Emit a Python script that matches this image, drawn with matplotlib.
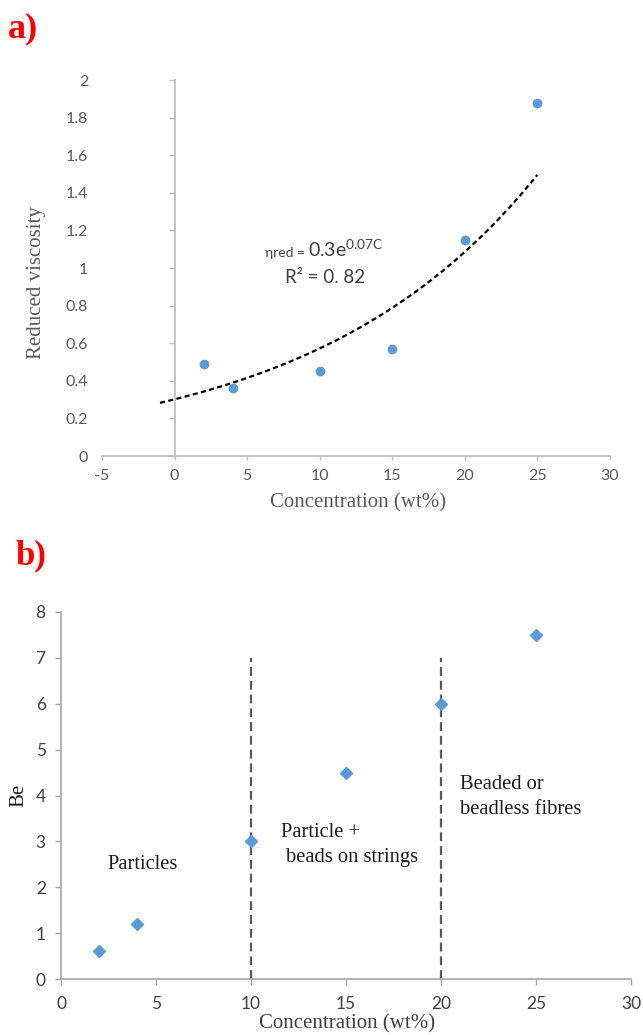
#! /usr/bin/env python

import numpy as np
import matplotlib
matplotlib.use("Agg")
from matplotlib import pyplot as plt

# panel a) reduced viscosity vs concentration
conc_a = [2, 4, 10, 15, 20, 25]
visc_a = [0.49, 0.36, 0.45, 0.57, 1.15, 1.88]
xticks_a = [-5, 0, 5, 10, 15, 20, 25, 30]
yticks_a = [0, 0.2, 0.4, 0.6, 0.8, 1, 1.2, 1.4, 1.6, 1.8, 2]
yticklabels_a = ["0", "0.2", "0.4", "0.6", "0.8", "1", "1.2", "1.4", "1.6", "1.8", "2"]
trend_start = -1  # Excel trendline, backward forecast of 1

# panel b) Berry number vs concentration
conc_b = [2, 4, 10, 15, 20, 25]
be_b = [0.6, 1.2, 3, 4.5, 6, 7.5]
regime_bounds = [10, 20]
xticks_b = [0, 5, 10, 15, 20, 25, 30]
yticks_b = [0, 1, 2, 3, 4, 5, 6, 7, 8]

blue = "#5B9BD5"
serif = ["Liberation Serif", "DejaVu Serif"]
sans = ["Lato", "DejaVu Sans"]

plt.rcParams["mathtext.fontset"] = "custom"
plt.rcParams["mathtext.rm"] = "Lato"
plt.rcParams["mathtext.it"] = "Lato"

fig = plt.figure(figsize=(6.43, 10.35), dpi=100)

# ---------------- a) ----------------
ax = fig.add_axes([0.1586, 0.5594, 0.790, 0.3633])
ax.set_xlim(-5, 30)
ax.set_ylim(0, 2)
for s in ["top", "right"]:
    ax.spines[s].set_visible(False)
ax.spines["left"].set_position(("data", 0))
ax.spines["left"].set_color("#BFBFBF")
ax.spines["bottom"].set_color("#BFBFBF")
ax.spines["left"].set_linewidth(1.3)
ax.spines["bottom"].set_linewidth(1.3)
ax.set_xticks(xticks_a)
ax.set_xticklabels([str(t) for t in xticks_a])
ax.set_yticks(yticks_a)
ax.tick_params(axis="x", direction="out", length=3, width=1, color="#BFBFBF",
               labelsize=11.5, labelcolor="#595959", pad=6)
ax.tick_params(axis="y", direction="out", length=4, width=1, color="#BFBFBF",
               labelleft=False)
for lab in ax.get_xticklabels():
    lab.set_family(sans)

# y tick labels sit at the left edge of the plot area, not on the axis line
sec = ax.secondary_yaxis(0.0)
sec.spines["left"].set_visible(False)
sec.set_yticks(yticks_a)
sec.set_yticklabels(yticklabels_a)
sec.tick_params(axis="y", length=0, pad=10, labelsize=11.5, labelcolor="#595959")
for lab in sec.get_yticklabels():
    lab.set_family(sans)

# exponential trendline fitted like Excel does (least squares on ln y)
b, ln_a = np.polyfit(conc_a, np.log(visc_a), 1)
xs = np.linspace(trend_start, max(conc_a), 200)
ax.plot(xs, np.exp(ln_a) * np.exp(b * xs), color="black", lw=1.6,
        dashes=(2.3, 1.5), zorder=2)
ax.plot(conc_a, visc_a, "o", color=blue, markersize=6, zorder=3)

ax.text(6.2, 1.06, "ηred =", fontsize=10, color="#404040",
        family=sans, va="baseline")
ax.text(9.2, 1.06, "0.3e$^{0.07C}$", fontsize=14, color="#404040",
        family=sans, va="baseline")
ax.text(7.6, 0.92, "R² = 0. 82", fontsize=13.5, color="#404040",
        family=sans, va="baseline")

ax.set_xlabel("Concentration (wt%)", family=serif, fontsize=15, color="#595959")
ax.xaxis.set_label_coords(0.504, -0.098)
ax.set_ylabel("Reduced viscosity", family=serif, fontsize=15, color="#595959")
ax.yaxis.set_label_coords(-0.11, 0.46)

fig.text(0.013, 0.972, "a)", color="#FF0000", fontsize=26, fontweight="bold",
         family=serif, va="center")

# ---------------- b) ----------------
bx = fig.add_axes([0.0949, 0.0541, 0.8865, 0.3546])
bx.set_xlim(0, 30)
bx.set_ylim(0, 8)
for s in ["top", "right"]:
    bx.spines[s].set_visible(False)
bx.spines["left"].set_color("#A6A6A6")
bx.spines["bottom"].set_color("#A6A6A6")
bx.spines["left"].set_linewidth(1.2)
bx.spines["bottom"].set_linewidth(1.2)
bx.set_xticks(xticks_b)
bx.set_yticks(yticks_b)
bx.tick_params(axis="both", direction="out", length=4, width=1, color="#A6A6A6",
               labelsize=12.5, labelcolor="#404040")
bx.tick_params(axis="x", pad=8)
bx.tick_params(axis="y", pad=7)
for lab in bx.get_xticklabels() + bx.get_yticklabels():
    lab.set_family(sans)

bx.vlines(regime_bounds, 0, 7, colors="#595959", lw=1.6,
          linestyles=(0, (4, 2.2)), zorder=2)
bx.plot(conc_b, be_b, "D", color=blue, markersize=6.3, zorder=3)

txt = dict(family=serif, fontsize=14.8, color="#1A1A1A", va="center")
bx.text(2.47, 2.49, "Particles", **txt)
bx.text(11.6, 3.19, "Particle +", **txt)
bx.text(11.84, 2.64, "beads on strings", **txt)
bx.text(21.0, 4.25, "Beaded or", **txt)
bx.text(21.0, 3.7, "beadless fibres", **txt)

bx.set_xlabel("Concentration (wt%)", family=serif, fontsize=15, color="#404040")
bx.xaxis.set_label_coords(0.502, -0.097)
bx.set_ylabel("Be", family=serif, fontsize=15, color="#1A1A1A")
bx.yaxis.set_label_coords(-0.058, 0.50)

fig.text(0.024, 0.463, "b)", color="#FF0000", fontsize=25, fontweight="bold",
         family=serif, va="center")

fig.savefig("out.png", dpi=100)
